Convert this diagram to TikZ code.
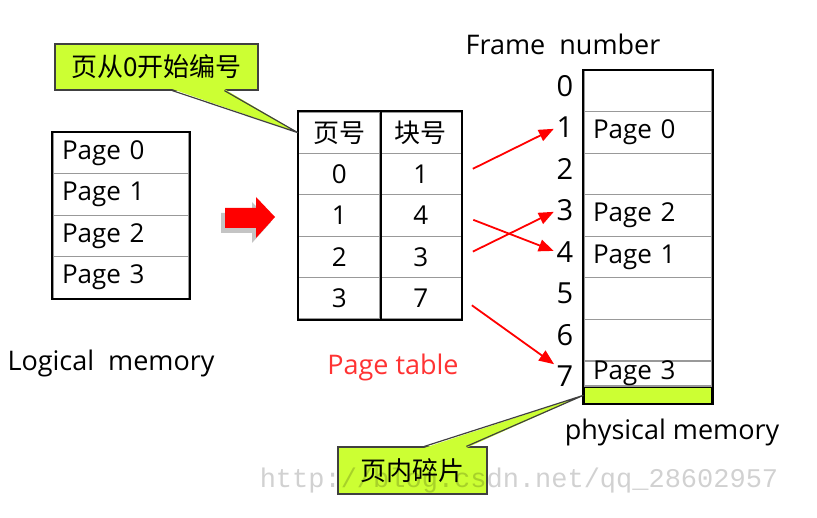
\documentclass[tikz,border=0pt]{standalone}
\usepackage{fontspec}
\setmainfont{Open Sans}
\setmonofont{Liberation Mono}
\newfontfamily\cjk{Noto Sans CJK SC}
\usepackage{tikz}
\usetikzlibrary{arrows.meta,calc,positioning}
\definecolor{pgGreen}{HTML}{CCFF33}
\definecolor{pgRed}{HTML}{FF0000}
\definecolor{pgText}{HTML}{FF3333}
\definecolor{pgLine}{HTML}{999999}
\definecolor{pgShade}{HTML}{C4C4C4}

\begin{document}
\begin{tikzpicture}[x=1pt,y=-1pt,>=Latex,
  lcell/.style={draw=pgLine,line width=1.2pt,minimum width=136pt,minimum height=41.5pt,inner xsep=9pt,inner ysep=0pt,text width=118pt,align=left,font=\fontsize{26}{26}\selectfont},
  mcell/.style={draw=pgLine,line width=1.2pt,minimum width=128pt,minimum height=41.5pt,inner xsep=9pt,inner ysep=0pt,text width=110pt,align=left,font=\fontsize{26}{26}\selectfont},
  pcell/.style={draw=pgLine,line width=1.2pt,minimum width=81.5pt,minimum height=41.4pt,inner sep=0pt,font=\fontsize{26}{26}\selectfont},
  fnum/.style={inner sep=0pt,font=\fontsize{29}{29}\selectfont},
  lbl/.style={inner sep=0pt,font=\fontsize{27}{27}\selectfont},
  frame/.style={draw=black,line width=2pt},
  maparrow/.style={-{Triangle[length=15pt,width=12pt]},draw=pgRed,line width=1.8pt,shorten <=12pt,shorten >=3pt},
  callout/.style={draw=black!75,line width=1.2pt,fill=pgGreen,inner sep=0pt,font={\cjk\fontsize{26}{26}\selectfont}},
  wedge/.style={draw=black!75,line width=1.2pt,line join=miter}]
\useasboundingbox (0,0) rectangle (817,518);
% logical memory
\foreach \i in {0,...,3}
  \node[lcell] (lp\i) at (121,{153+41.5*\i}) {Page \i};
\draw[frame] (lp0.north west) rectangle (lp3.south east);
\node[lbl] (logical) at (111,363) {Logical~~memory};
% big red arrow with its shade
\fill[pgShade] (221,213) -- (252,213) -- (252,202) -- (271,222) -- (252,243) -- (252,233) -- (221,233) -- cycle;
\fill[pgRed] (225,208) -- (256,208) -- (256,197) -- (275,217) -- (256,238) -- (256,228) -- (225,228) -- cycle;
% page table
\node[pcell] (hp) at (339.25,132.7) {\cjk 页号};
\node[pcell] (hb) at (420.75,132.7) {\cjk 块号};
\foreach \p/\b [count=\r] in {0/1,1/4,2/3,3/7} {
  \node[pcell] (p\p) at (339.25,{132.7+41.4*\r}) {\p};
  \node[pcell] (b\p) at (420.75,{132.7+41.4*\r}) {\b};
}
\draw[frame] (hp.north west) rectangle (b3.south east);
\draw[frame] (hp.north east) -- (p3.south east);
\node[lbl,text=pgText] (ptable) at (393,367) {Page table};
% physical memory
\foreach \f/\t in {0/,1/Page 0,2/,3/Page 2,4/Page 1,5/,6/}
  \node[mcell] (f\f) at (648,{91+41.5*\f}) {\t};
\node[mcell,minimum height=25pt] (f7) at (648,373.5) {Page 3};
\node[draw=black,line width=1.5pt,fill=pgGreen,minimum width=128pt,minimum height=16pt,inner sep=0pt,below=0pt of f7] (frag) {};
\draw[frame] (f0.north west) rectangle (frag.south east);
\foreach \f in {0,...,7}
  \node[fnum] (n\f) at (565,{86+41.5*\f}) {\f};
\node[lbl] (fnumber) at (563,44) {Frame~~number};
\node[lbl] (physical) at (672,432) {physical memory};
% page -> frame
\draw[maparrow] (b0.east) -- (n1.west);
\draw[maparrow] (b1.east) -- (n4.west);
\draw[maparrow] (b2.east) -- (n3.west);
\draw[maparrow] (b3.east) -- (n7.north west);
% callouts
\node[callout,minimum width=203pt,minimum height=46pt] (tip0) at (156.5,67) {页从0开始编号};
\fill[pgGreen] ($(tip0.south west)+(118,-1.5)$) -- (hp.west) -- ($(tip0.south west)+(170,-1.5)$) -- cycle;
\draw[wedge] ($(tip0.south west)+(118,0)$) -- (hp.west) -- ($(tip0.south west)+(170,0)$);
\node[callout,minimum width=149pt,minimum height=47pt] (tip1) at (412.5,470.5) {页内碎片};
\fill[pgGreen] ($(tip1.north west)+(87,1.5)$) -- (frag.west) -- ($(tip1.north west)+(129,1.5)$) -- cycle;
\draw[wedge] ($(tip1.north west)+(87,0)$) -- (frag.west) -- ($(tip1.north west)+(129,0)$);
% watermark
\node[inner sep=0pt,text=black,text opacity=0.18,font=\ttfamily\fontsize{27}{27}\selectfont] (mark) at (519,481) {http://blog.csdn.net/qq\_28602957};
\end{tikzpicture}
\end{document}
